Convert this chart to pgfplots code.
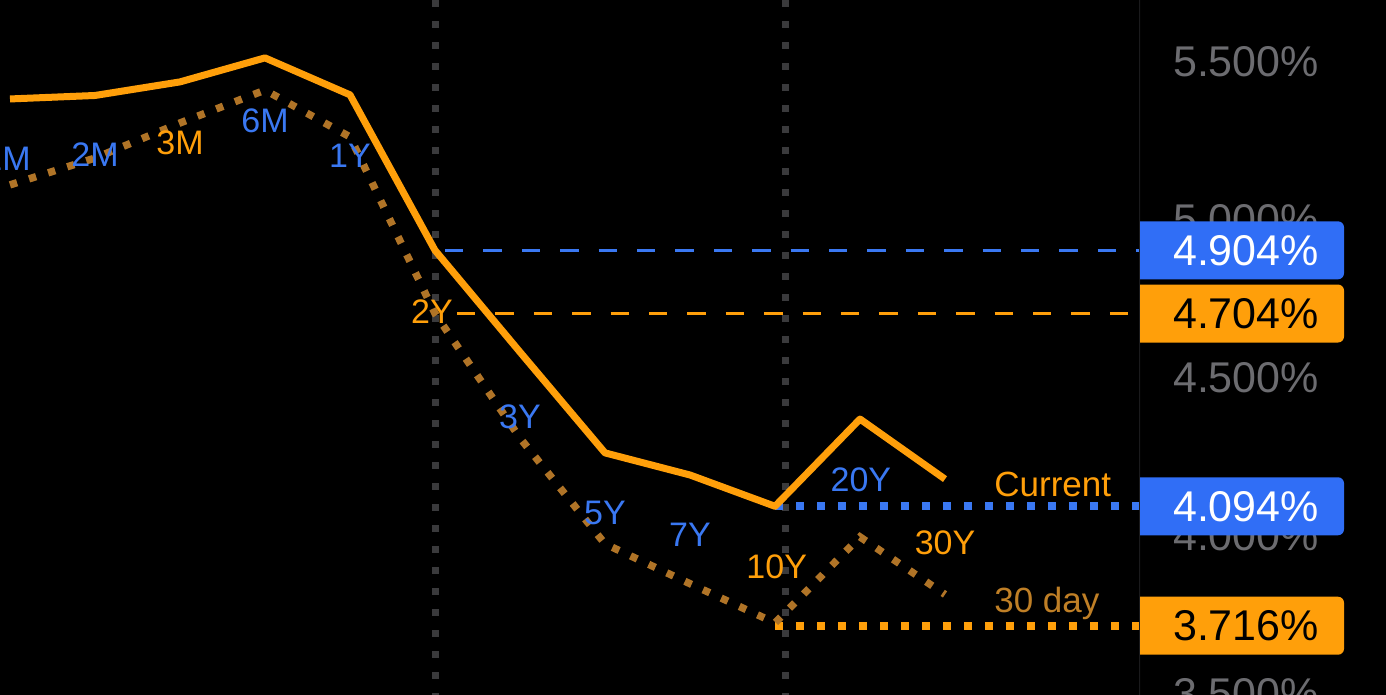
\documentclass[border=0pt]{standalone}
\usepackage{pgfplots}
\pgfplotsset{compat=1.18}
\usepackage{fontspec}
\setmainfont{Liberation Sans}
\definecolor{cOrange}{HTML}{FF9F0A}
\definecolor{cDot}{HTML}{B07427}
\definecolor{cDay}{HTML}{BF7F26}
\definecolor{cBlue}{HTML}{3A78F2}
\definecolor{cBox}{HTML}{306EF6}
\definecolor{cGrid}{HTML}{3A3A3C}
\definecolor{cTick}{HTML}{6C6C70}
\definecolor{cSep}{HTML}{1A1A1C}
\newcommand\labfont{\fontsize{17}{20}\selectfont}
\newcommand\smfont{\fontsize{17.5}{20}\selectfont}
\newcommand\tickfont{\fontsize{21.5}{24}\selectfont}
\newcommand\valbox[4]{%
  \fill[#2] ([yshift=14.5pt]#1) [rounded corners=3pt] -- ++(102pt,0) -- ++(0,-29pt) [sharp corners] -- ++(-102pt,0) -- cycle;
  \node[text=#3, font=\tickfont, inner sep=0pt] at ([xshift=53pt]#1) {#4};
}
\begin{document}
\begin{tikzpicture}
\useasboundingbox (0,0) rectangle (693pt,347.5pt);
\fill[black] (0,0) rectangle (693pt,347.5pt);
\begin{axis}[at={(0pt,0pt)}, anchor=south west, scale only axis,
  width=570pt, height=347.5pt,
  xmin=-0.1176, xmax=13.294, ymin=3.4968, ymax=5.6962,
  axis line style={draw=none}, tick style={draw=none}, major tick length=0pt,
  xtick=\empty, ytick={3.5,4,4.5,5,5.5},
  yticklabels={3.500\%,4.000\%,4.500\%,5.000\%,5.500\%},
  yticklabel pos=right,
  yticklabel style={anchor=center, xshift=53pt, text=cTick, font=\tickfont, inner sep=0pt},
  clip=true]
% vertical grey dotted guides
\addplot[cGrid, line width=3.5pt, dash pattern=on 3.5pt off 7pt, forget plot] coordinates {(5,5.6962) (5,3.4968)};
\addplot[cGrid, line width=3.5pt, dash pattern=on 3.5pt off 7pt, forget plot] coordinates {(9.118,5.6962) (9.118,3.4968)};
% reference lines
\addplot[cBlue, line width=1.7pt, dash pattern=on 9.2pt off 10pt] coordinates {(5.118,4.904) (13.294,4.904)};
\addplot[cOrange, line width=1.7pt, dash pattern=on 9.2pt off 10pt] coordinates {(5.259,4.704) (13.294,4.704)};
\addplot[cBlue, line width=3.8pt, dash pattern=on 3.8pt off 6.7pt] coordinates {(9,4.094) (13.294,4.094)};
\addplot[cOrange, line width=3.8pt, dash pattern=on 3.8pt off 6.7pt] coordinates {(9,3.716) (13.294,3.716)};
% 30 day curve
\addplot[cDot, line width=3.7pt, dash pattern=on 3.7pt off 6.3pt] coordinates {
 (0,5.111) (1,5.196) (2,5.307) (3,5.411) (4,5.263) (5,4.704) (6,4.31) (7,3.975) (8,3.849) (9,3.725) (10,3.997) (11,3.815)};
% current curve
\addplot[cOrange, line width=3.5pt, line join=round] coordinates {
 (0,5.383) (1,5.394) (2,5.437) (3,5.513) (4,5.396) (5,4.904) (6,4.582) (7,4.263) (8,4.193) (9,4.094) (10,4.370) (11,4.180)};
% separator
\addplot[cSep, line width=1pt] coordinates {(13.294,3.4968) (13.294,5.6962)};
% tenor labels
\node[text=cBlue, font=\labfont] at (axis cs:-0.035,5.195) {1M};
\node[text=cBlue, font=\labfont] at (axis cs:1,5.206) {2M};
\node[text=cOrange, font=\labfont] at (axis cs:2,5.245) {3M};
\node[text=cBlue, font=\labfont] at (axis cs:3,5.313) {6M};
\node[text=cBlue, font=\labfont] at (axis cs:4,5.204) {1Y};
\node[text=cOrange, font=\labfont] at (axis cs:4.965,4.709) {2Y};
\node[text=cBlue, font=\labfont] at (axis cs:6,4.377) {3Y};
\node[text=cBlue, font=\labfont] at (axis cs:7,4.073) {5Y};
\node[text=cBlue, font=\labfont] at (axis cs:8,4.003) {7Y};
\node[text=cOrange, font=\labfont] at (axis cs:9.02,3.902) {10Y};
\node[text=cBlue, font=\labfont] at (axis cs:10.01,4.177) {20Y};
\node[text=cOrange, font=\labfont] at (axis cs:11,3.978) {30Y};
\node[text=cOrange, font=\smfont, anchor=base west, inner sep=0pt] at (axis cs:11.576,4.1234) {Current};
\node[text=cDay, font=\smfont, anchor=base west, inner sep=0pt] at (axis cs:11.576,3.7563) {30 day};
\coordinate (bA) at (axis cs:13.294,4.904);
\coordinate (bB) at (axis cs:13.294,4.704);
\coordinate (bC) at (axis cs:13.294,4.094);
\coordinate (bD) at (axis cs:13.294,3.716);
\end{axis}
\valbox{bA}{cBox}{white}{4.904\%}
\valbox{bB}{cOrange}{black}{4.704\%}
\valbox{bC}{cBox}{white}{4.094\%}
\valbox{bD}{cOrange}{black}{3.716\%}
\end{tikzpicture}
\end{document}
